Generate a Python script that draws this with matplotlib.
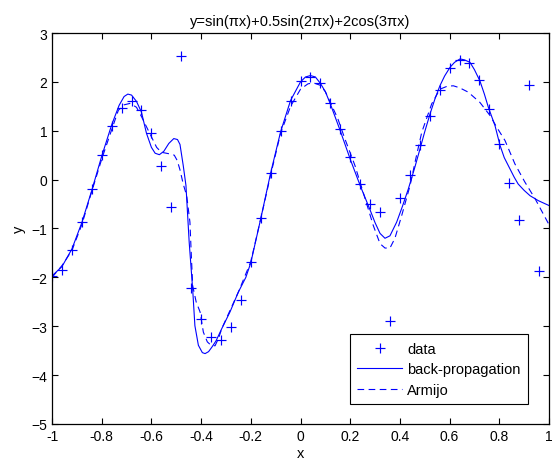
import matplotlib
matplotlib.use("Agg")
import matplotlib.pyplot as plt

plt.rcParams['font.family'] = ['Liberation Sans', 'DejaVu Sans']

# noisy samples
data_x = [-1.00, -0.96, -0.92, -0.88, -0.84, -0.80, -0.76, -0.72, -0.68, -0.64,
          -0.60, -0.56, -0.52, -0.48, -0.44, -0.40, -0.36, -0.32, -0.28, -0.24,
          -0.20, -0.16, -0.12, -0.08, -0.04, 0.00, 0.04, 0.08, 0.12, 0.16,
          0.20, 0.24, 0.28, 0.32, 0.36, 0.40, 0.44, 0.48, 0.52, 0.56,
          0.60, 0.64, 0.68, 0.72, 0.76, 0.80, 0.84, 0.88, 0.92, 0.96]
data_y = [-1.97, -1.85, -1.45, -0.87, -0.19, 0.51, 1.10, 1.47, 1.60, 1.43,
          0.95, 0.28, -0.57, 2.52, -2.22, -2.85, -3.22, -3.28, -3.01, -2.46,
          -1.69, -0.78, 0.14, 0.99, 1.61, 2.01, 2.11, 1.97, 1.57, 1.04,
          0.46, -0.09, -0.49, -0.67, -2.90, -0.38, 0.10, 0.70, 1.30, 1.83,
          2.28, 2.45, 2.38, 2.04, 1.45, 0.72, -0.07, -0.82, 1.94, -1.86]

# back-propagation network output
bp_x = [-1.00, -0.96, -0.92, -0.88, -0.84, -0.80, -0.76, -0.73, -0.71, -0.695,
        -0.68, -0.66, -0.64, -0.62, -0.60, -0.585, -0.568, -0.55, -0.53, -0.51,
        -0.495, -0.485, -0.472, -0.461, -0.448, -0.434, -0.425, -0.411, -0.395, -0.384,
        -0.37, -0.357, -0.34, -0.317, -0.284, -0.25, -0.22, -0.20, -0.16, -0.12,
        -0.08, -0.04, 0.00, 0.02, 0.04, 0.06, 0.08, 0.10, 0.12, 0.16,
        0.20, 0.24, 0.28, 0.30, 0.32, 0.34, 0.36, 0.387, 0.41, 0.434,
        0.46, 0.481, 0.50, 0.521, 0.541, 0.561, 0.58, 0.602, 0.62, 0.642,
        0.66, 0.682, 0.70, 0.722, 0.74, 0.756, 0.783, 0.803, 0.82, 0.84,
        0.86, 0.876, 0.90, 0.924, 0.957, 1.00]
bp_y = [-1.97, -1.78, -1.42, -0.88, -0.22, 0.48, 1.12, 1.52, 1.70, 1.75,
        1.73, 1.60, 1.38, 0.95, 0.66, 0.54, 0.51, 0.58, 0.74, 0.84,
        0.82, 0.72, 0.29, -0.12, -1.28, -2.24, -2.99, -3.39, -3.54, -3.56,
        -3.52, -3.43, -3.30, -3.05, -2.71, -2.30, -2.00, -1.70, -0.80, 0.14,
        0.98, 1.62, 2.00, 2.10, 2.13, 2.10, 1.97, 1.80, 1.55, 1.00,
        0.42, -0.12, -0.62, -0.88, -1.10, -1.20, -1.15, -0.87, -0.55, -0.19,
        0.25, 0.63, 0.98, 1.34, 1.65, 1.92, 2.12, 2.30, 2.40, 2.47,
        2.45, 2.40, 2.25, 2.02, 1.75, 1.48, 1.10, 0.70, 0.45, 0.25,
        0.05, -0.09, -0.22, -0.33, -0.43, -0.53]

# Armijo-trained network output
arm_x = [-1.00, -0.96, -0.92, -0.88, -0.84, -0.80, -0.76, -0.733, -0.71, -0.686,
         -0.66, -0.639, -0.612, -0.579, -0.56, -0.54, -0.52, -0.508, -0.496, -0.485,
         -0.472, -0.458, -0.445, -0.44, -0.434, -0.42, -0.404, -0.391, -0.375, -0.36,
         -0.344, -0.33, -0.317, -0.284, -0.25, -0.20, -0.16, -0.12, -0.08, -0.04,
         0.00, 0.03, 0.052, 0.08, 0.10, 0.12, 0.15, 0.179, 0.219, 0.26,
         0.293, 0.32, 0.34, 0.36, 0.38, 0.407, 0.441, 0.465, 0.488, 0.528,
         0.561, 0.59, 0.615, 0.64, 0.675, 0.722, 0.763, 0.79, 0.823, 0.863,
         0.903, 0.944, 1.00]
arm_y = [-2.00, -1.76, -1.45, -0.92, -0.24, 0.42, 1.02, 1.42, 1.53, 1.56,
         1.48, 1.28, 1.00, 0.66, 0.56, 0.54, 0.52, 0.50, 0.39, 0.20,
         -0.09, -0.33, -0.87, -1.48, -2.17, -2.50, -2.71, -3.12, -3.32, -3.39,
         -3.40, -3.25, -3.05, -2.68, -2.30, -1.68, -0.80, 0.10, 0.95, 1.50,
         1.85, 1.96, 1.98, 1.93, 1.80, 1.58, 1.25, 0.83, 0.29, -0.39,
         -0.94, -1.31, -1.40, -1.40, -1.20, -0.74, -0.12, 0.45, 0.97, 1.55,
         1.85, 1.91, 1.92, 1.88, 1.79, 1.58, 1.31, 1.07, 0.80, 0.32,
         -0.05, -0.39, -0.92]

xticks = [-1, -0.8, -0.6, -0.4, -0.2, 0, 0.2, 0.4, 0.6, 0.8, 1]
xtick_labels = ['-1', '-0.8', '-0.6', '-0.4', '-0.2', '0', '0.2', '0.4', '0.6', '0.8', '1']
yticks = [-5, -4, -3, -2, -1, 0, 1, 2, 3]

fig = plt.figure(figsize=(5.57, 4.64), dpi=100)
ax = fig.add_axes([0.0934, 0.0841, 0.8922, 0.8426])

ax.plot(data_x, data_y, '+', color='blue', markersize=7.5, markeredgewidth=0.85, label='data')
ax.plot(bp_x, bp_y, '-', color='blue', linewidth=0.8, label='back-propagation')
ax.plot(arm_x, arm_y, '--', color='blue', linewidth=0.8, dashes=(6, 4), label='Armijo')

ax.set_xlim(-1, 1)
ax.set_ylim(-5, 3)
ax.set_xticks(xticks)
ax.set_xticklabels(xtick_labels)
ax.set_yticks(yticks)
ax.tick_params(direction='in', top=True, right=True, length=4, width=0.8, labelsize=10)
for s in ax.spines.values():
    s.set_linewidth(0.9)

ax.set_title('y=sin(\u03c0x)+0.5sin(2\u03c0x)+2cos(3\u03c0x)', fontsize=10.5)
ax.set_xlabel('x', fontsize=10.5, labelpad=2)
ax.set_ylabel('y', fontsize=10.5, labelpad=4)

leg = ax.legend(loc='lower right', bbox_to_anchor=(0.958, 0.051), fontsize=10.5,
                fancybox=False, framealpha=1, edgecolor='black', handlelength=3.1,
                handletextpad=0.35, borderpad=0.5, borderaxespad=0, labelspacing=0.45)
leg.get_frame().set_linewidth(0.8)

fig.savefig('out.png', dpi=100)
